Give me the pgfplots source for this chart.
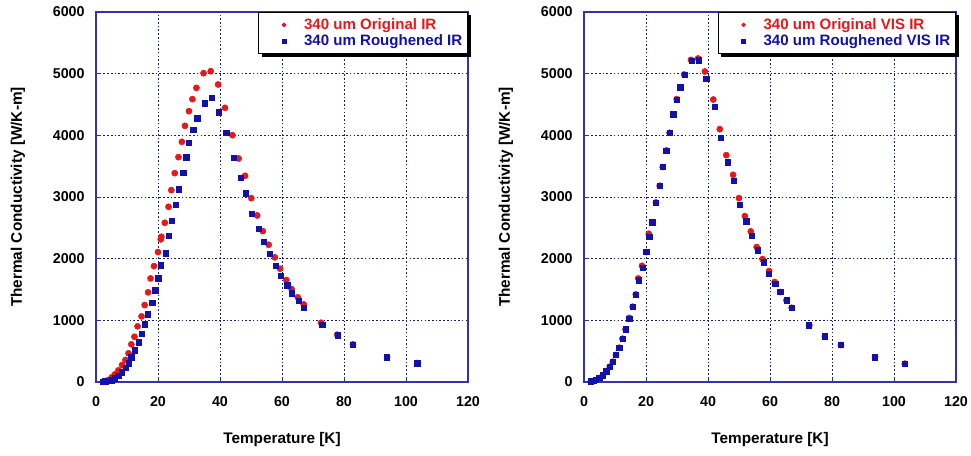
\documentclass[border=0pt]{standalone}
\usepackage{fontspec}
\setmainfont{Liberation Sans}
\usepackage{pgfplots}
\pgfplotsset{compat=1.18}
\usetikzlibrary{shadows}

\definecolor{ptred}{RGB}{232,24,24}
\definecolor{ptblue}{RGB}{18,18,170}
\definecolor{axblue}{RGB}{50,50,175}
\definecolor{gridnavy}{RGB}{30,30,110}

\pgfplotsset{
  kplot/.style={
    scale only axis, width=279pt, height=277.5pt,
    xmin=0, xmax=120, ymin=0, ymax=6000,
    xtick={0,20,...,120}, ytick={0,1000,...,6000},
    grid=major,
    major grid style={gridnavy, line width=0.6pt, dash pattern=on 1.2pt off 1.6pt},
    axis line style={axblue, line width=0.8pt},
    tick style={axblue, line width=0.6pt},
    major tick length=3pt,
    tick align=inside,
    xtick pos=bottom, ytick pos=left,
    tick label style={font=\bfseries\fontsize{10.7}{12}\selectfont},
    xticklabel style={yshift=-7pt},
    yticklabel style={xshift=-5pt},
    /pgf/number format/assume math mode=true,
    /pgf/number format/1000 sep={},
    every axis x label/.style={at={(axis description cs:0.5,0)}, anchor=center, yshift=-43.5pt,
      font=\bfseries\fontsize{11.5}{13}\selectfont},
    every axis y label/.style={at={(axis description cs:0,0.5)}, anchor=center, xshift=-58.5pt,
      rotate=90, font=\bfseries\fontsize{11.5}{13}\selectfont},
    xlabel={Temperature [K]},
    ylabel={Thermal Conductivity [W/K-m]},
    legend style={at={(1,1)}, anchor=north east, draw=black, line width=0.6pt,
      fill=white, font=\bfseries\fontsize{11.3}{13}\selectfont,
      drop shadow={shadow xshift=2.2pt, shadow yshift=-2.2pt, fill=black, opacity=1},
      row sep=-1.5pt, inner xsep=2pt, inner ysep=2.5pt},
    legend cell align=left,
    legend image code/.code={%
      \pgfpathmoveto{\pgfpoint{0pt}{0pt}}\pgfpathlineto{\pgfpoint{30pt}{0pt}}\pgfusepath{}%
      \draw[#1, mark size=1.4pt] plot coordinates {(17pt,0pt)};},
  },
  origpts/.style={only marks, mark=*, mark size=2.3pt, color=ptred, mark options={fill=ptred, draw=ptred}},
  roughpts/.style={only marks, mark=square*, mark size=2.0pt, color=ptblue, mark options={fill=ptblue, draw=ptblue}},
}

\pgfplotstableread{
T k
3.0 15
4.0 32
5.1 76
6.1 124
7.2 189
8.4 276
9.5 357
10.5 465
11.4 611
12.4 734
13.4 903
14.7 1065
15.7 1248
16.8 1454
17.6 1680
18.7 1880
20.0 2107
20.9 2313
21.1 2355
22.2 2582
23.4 2841
24.3 3112
25.4 3387
26.6 3647
27.7 3895
28.7 4154
30.0 4392
31.1 4587
32.4 4770
34.7 5008
37.0 5040
39.4 4825
41.6 4446
44.0 4003
46.0 3625
48.1 3344
50.1 2982
52.0 2701
53.8 2447
55.7 2226
57.7 2021
59.4 1837
61.4 1653
63.1 1507
65.1 1373
67.0 1259
72.6 961
77.8 767
82.9 611
93.9 400
103.6 308
}\origIR

\pgfplotstableread{
T k
2.2 5
3.0 10
4.0 15
5.1 28
6.1 60
7.2 102
8.4 157
9.5 232
10.5 303
11.4 400
12.5 514
13.8 643
14.7 783
15.7 935
16.8 1097
18.1 1286
19.1 1486
20.1 1680
21.0 1891
22.4 2086
23.4 2371
24.5 2620
25.7 2874
26.7 3123
28.1 3393
29.1 3647
30.0 3878
31.4 4095
32.7 4279
35.1 4522
37.3 4614
39.7 4376
42.0 4041
44.4 3636
46.7 3311
48.3 3058
50.3 2723
52.4 2485
54.2 2269
56.0 2075
58.0 1885
59.7 1723
61.7 1567
63.2 1437
65.4 1318
67.0 1204
73.0 924
78.0 757
82.9 605
93.9 400
103.6 303
}\roughIR

\pgfplotstableread{
T k
3.0 15
3.9 32
4.9 65
6.1 109
7.2 173
8.3 248
9.3 329
10.3 438
11.4 556
12.4 702
13.4 854
14.6 1040
15.7 1221
16.7 1420
17.5 1680
18.7 1885
20.1 2107
20.9 2404
22.0 2593
23.2 2912
24.4 3182
25.4 3485
26.6 3755
27.6 4041
28.8 4344
29.9 4587
31.1 4781
32.3 4986
34.5 5224
36.8 5246
39.0 5035
41.7 4581
43.8 4100
45.9 3679
48.1 3360
50.0 2982
51.9 2690
53.8 2442
55.7 2188
57.6 1993
59.7 1799
61.5 1621
63.3 1459
65.3 1324
67.0 1204
72.7 919
77.7 740
82.9 600
93.9 400
103.5 297
}\origVIS

\pgfplotstableread{
T k
2.2 10
3.0 15
3.9 32
4.9 65
6.1 109
7.2 173
8.3 248
9.3 329
10.3 438
11.4 556
12.4 702
13.4 854
14.6 1026
15.7 1221
16.7 1410
17.7 1648
19.0 1853
20.1 2107
21.0 2350
22.0 2593
23.2 2912
24.4 3182
25.4 3485
26.5 3749
27.6 4041
28.8 4344
30.0 4581
31.1 4781
32.4 4981
34.7 5208
37.0 5219
39.4 4916
42.2 4462
44.1 3966
46.4 3561
48.4 3263
50.3 2874
52.3 2604
54.1 2371
56.0 2139
58.0 1940
59.7 1755
61.7 1588
63.3 1459
65.3 1324
67.0 1204
72.6 919
77.6 740
82.9 600
93.9 400
103.5 297
}\roughVIS

\begin{document}
\begin{tikzpicture}
\path[use as bounding box] (-72pt,-54.75pt) rectangle (656.25pt,286.5pt);

% left panel: IR
\begin{axis}[kplot, at={(0pt,0pt)}]
  \addplot[origpts] table[x=T, y=k] {\origIR};
  \addlegendentry{\textcolor{ptred}{340 um Original IR}}
  \addplot[roughpts] table[x=T, y=k] {\roughIR};
  \addlegendentry{\textcolor{ptblue}{340 um Roughened IR}}
\end{axis}

% right panel: VIS IR
\begin{axis}[kplot, at={(366pt,0pt)}]
  \addplot[origpts] table[x=T, y=k] {\origVIS};
  \addlegendentry{\textcolor{ptred}{340 um Original VIS IR}}
  \addplot[roughpts] table[x=T, y=k] {\roughVIS};
  \addlegendentry{\textcolor{ptblue}{340 um Roughened VIS IR}}
\end{axis}
\end{tikzpicture}
\end{document}
